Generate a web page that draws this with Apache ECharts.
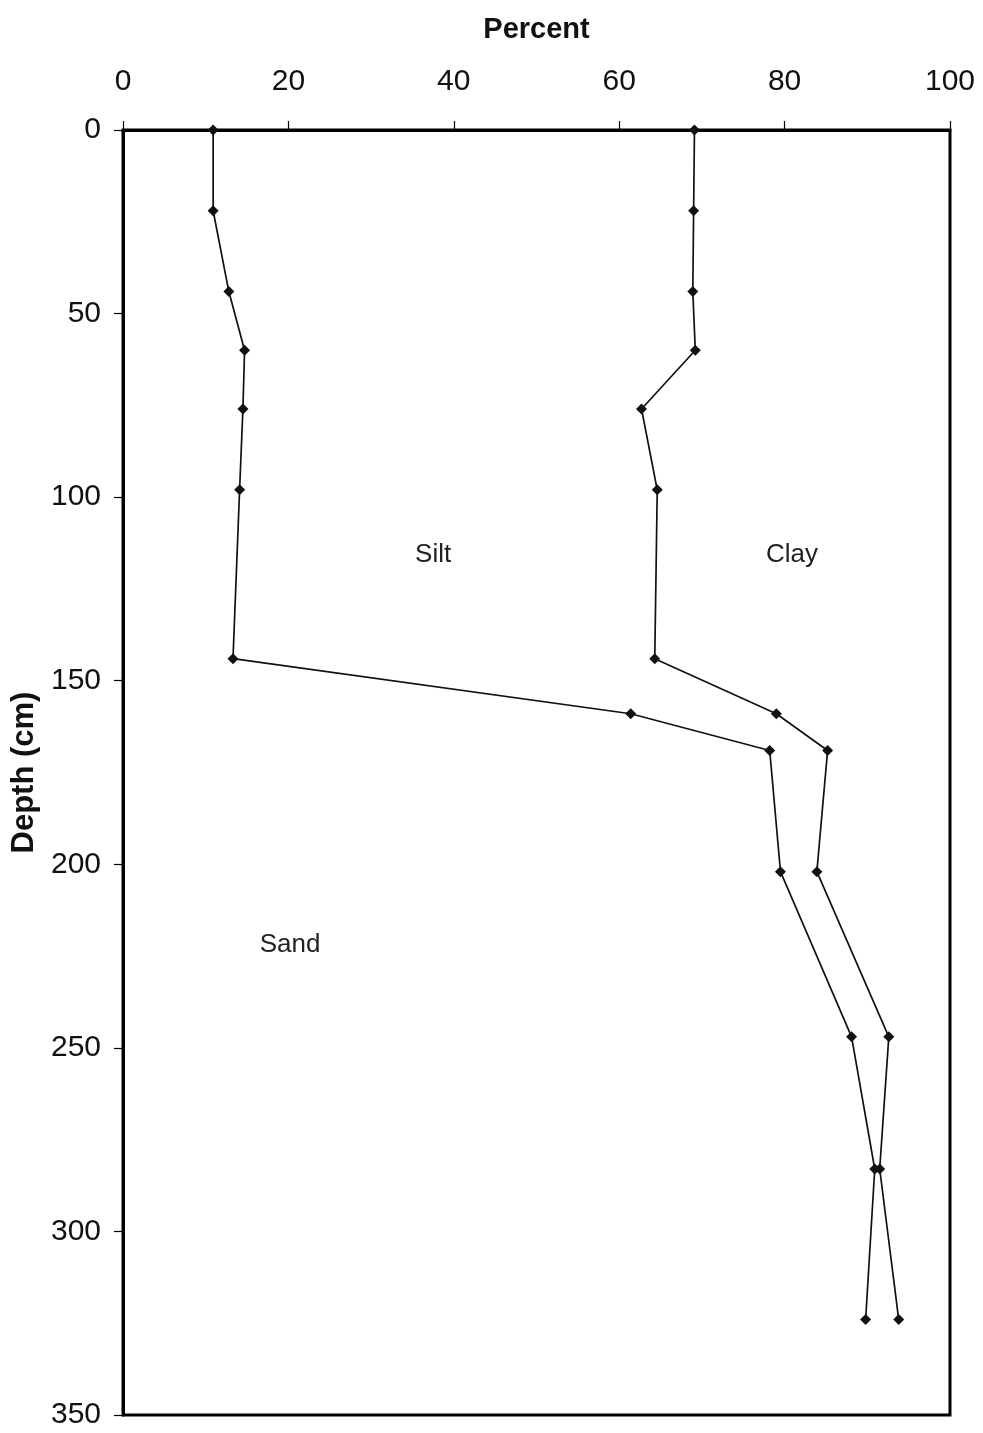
<!DOCTYPE html>
<html>
<head>
<meta charset="utf-8">
<title>Particle size by depth</title>
<script src="https://cdn.jsdelivr.net/npm/echarts@6/dist/echarts.min.js"></script>
<style>
  html, body { margin: 0; padding: 0; background: #fff; }
  #chart { width: 983px; height: 1433px; }
</style>
</head>
<body>
<div id="chart"></div>
<script>
// Sample depths (cm)
const depths = [0, 22, 44, 60, 76, 98, 144, 159, 169, 202, 247, 283, 324];
// Sand percent (left boundary)
const sandPct = [10.9, 10.9, 12.8, 14.7, 14.5, 14.1, 13.3, 61.4, 78.2, 79.5, 88.1, 90.9, 89.8];
// Sand + silt percent (boundary with clay)
const sandSiltPct = [69.1, 69.0, 68.9, 69.2, 62.7, 64.6, 64.3, 79.0, 85.2, 83.9, 92.6, 91.5, 93.8];
// Axis ticks
const percentTicks = [0, 20, 40, 60, 80, 100];
const depthTicks = [0, 50, 100, 150, 200, 250, 300, 350];
// Region labels: name, percent position, depth position
const regionNames = ['Silt', 'Clay', 'Sand'];
const regionX = [37.5, 80.9, 20.2];
const regionY = [115.8, 115.8, 222];

const FONT = '"Liberation Sans", Arial, sans-serif';
const pairs = (xs) => xs.map((v, i) => [v, depths[i]]);

const lineStyleCommon = {
  type: 'line',
  symbol: 'diamond',
  symbolSize: 11,
  itemStyle: { color: '#111' },
  lineStyle: { color: '#111', width: 1.7 },
  silent: true,
  animation: false
};

const chart = echarts.init(document.getElementById('chart'), null, { renderer: 'canvas' });
chart.setOption({
  backgroundColor: '#fff',
  animation: false,
  grid: {
    left: 123, right: 33, top: 130, bottom: 18,
    show: true, borderColor: '#000', borderWidth: 3, backgroundColor: 'transparent'
  },
  xAxis: {
    type: 'value',
    position: 'top',
    min: percentTicks[0],
    max: percentTicks[percentTicks.length - 1],
    interval: 20,
    name: 'Percent',
    nameLocation: 'middle',
    nameGap: 86,
    nameTextStyle: { fontFamily: FONT, fontSize: 29, fontWeight: 'bold', color: '#111' },
    axisLine: { show: true, lineStyle: { color: '#000', width: 3 } },
    axisTick: { show: true, length: 9, lineStyle: { color: '#000', width: 1.2 } },
    axisLabel: { fontFamily: FONT, fontSize: 30, color: '#111', margin: 33 },
    splitLine: { show: false }
  },
  yAxis: {
    type: 'value',
    inverse: true,
    min: depthTicks[0],
    max: depthTicks[depthTicks.length - 1],
    interval: 50,
    name: 'Depth (cm)',
    nameLocation: 'middle',
    nameGap: 80,
    nameRotate: 90,
    nameTextStyle: { fontFamily: FONT, fontSize: 31, fontWeight: 'bold', color: '#111' },
    axisLine: { show: true, lineStyle: { color: '#000', width: 3 } },
    axisTick: { show: true, length: 9, lineStyle: { color: '#000', width: 1.2 } },
    axisLabel: { fontFamily: FONT, fontSize: 30, color: '#111', margin: 22 },
    splitLine: { show: false }
  },
  series: [
    Object.assign({}, lineStyleCommon, {
      name: 'Sand',
      data: pairs(sandPct),
      markPoint: {
        symbol: 'circle',
        symbolSize: 0,
        silent: true,
        label: {
          show: true, position: 'inside', formatter: '{b}',
          fontFamily: FONT, fontSize: 26, color: '#222'
        },
        data: regionNames.map((n, i) => ({ name: n, coord: [regionX[i], regionY[i]] }))
      }
    }),
    Object.assign({}, lineStyleCommon, {
      name: 'Sand + Silt',
      data: pairs(sandSiltPct)
    })
  ]
});
</script>
</body>
</html>
